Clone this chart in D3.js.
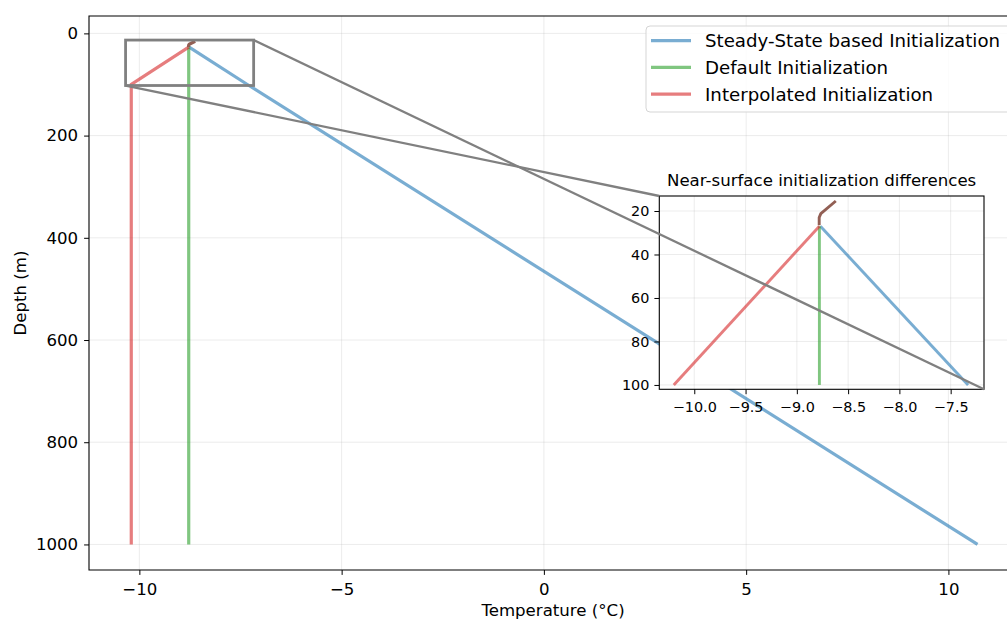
<!DOCTYPE html>
<html>
<head>
<meta charset="utf-8">
<script src="https://cdn.jsdelivr.net/npm/d3@7"></script>
<style>
  html, body { margin: 0; padding: 0; background: #fff; }
  svg { display: block; font-family: "DejaVu Sans", sans-serif; }
</style>
</head>
<body>
<svg id="chart" width="1007" height="620"></svg>
<script>
// Temperature profiles (°C) against depth (m)
const steadyDepth = [27, 100, 1000];
const steadyTemp  = [-8.77, -7.33, 10.72];

const defaultDepth = [27, 100, 1000];
const defaultTemp  = [-8.78, -8.78, -8.78];

const interpDepth = [27, 100, 1000];
const interpTemp  = [-8.78, -10.2, -10.2];

// observed near-surface segment
const surfaceDepth = [15.4, 21.2, 23.0, 26.6];
const surfaceTemp  = [-8.62, -8.766, -8.782, -8.782];

const seriesNames = ["Steady-State based Initialization", "Default Initialization", "Interpolated Initialization"];
const seriesColors = ["#1f77b4", "#2ca02c", "#d62728"];

const xTicks = [-10, -5, 0, 5, 10];
const yTicks = [0, 200, 400, 600, 800, 1000];
const insetXTicks = [-10.0, -9.5, -9.0, -8.5, -8.0, -7.5];
const insetYTicks = [20, 40, 60, 80, 100];
const insetXDomain = [-10.341, -7.175];
const insetYDomain = [13.1, 102.0];
const insetMaxDepth = 100;

const svg = d3.select("#chart");
const minus = s => s.replace("-", "\u2212");

// ---- main axes ----
const M = { left: 89, top: 16, bottom: 570, right: 1019 };
const x = d3.scaleLinear().domain([-11.245, 11.745]).range([M.left, M.right]);
const y = d3.scaleLinear().domain([-34, 1050]).range([M.top, M.bottom]);

const main = svg.append("g");
// grid
main.append("g").selectAll("line").data(xTicks).join("line")
  .attr("x1", d => x(d)).attr("x2", d => x(d)).attr("y1", M.top).attr("y2", M.bottom)
  .attr("stroke", "#b0b0b0").attr("stroke-opacity", 0.3).attr("stroke-width", 0.8);
main.append("g").selectAll("line").data(yTicks).join("line")
  .attr("y1", d => y(d)).attr("y2", d => y(d)).attr("x1", M.left).attr("x2", M.right)
  .attr("stroke", "#b0b0b0").attr("stroke-opacity", 0.3).attr("stroke-width", 0.8);

const lineMain = d3.line().x(d => x(d[0])).y(d => y(d[1]));
const zip = (t, dd) => t.map((v, i) => [v, dd[i]]);
const profiles = [zip(steadyTemp, steadyDepth), zip(defaultTemp, defaultDepth), zip(interpTemp, interpDepth)];

profiles.forEach((p, i) => {
  main.append("path").attr("d", lineMain(p)).attr("fill", "none")
    .attr("stroke", seriesColors[i]).attr("stroke-opacity", 0.6).attr("stroke-width", 3.2);
});
main.append("path").attr("d", lineMain(zip(surfaceTemp, surfaceDepth))).attr("fill", "none")
  .attr("stroke", "#8c564b").attr("stroke-opacity", 0.95).attr("stroke-width", 3.2)
  .attr("stroke-linejoin", "round");

// spines
main.append("path")
  .attr("d", `M${M.right},${M.top}H${M.left}V${M.bottom}H${M.right}`)
  .attr("fill", "none").attr("stroke", "#000").attr("stroke-width", 1.1);

// axes
const xAxis = d3.axisBottom(x).tickValues(xTicks).tickSize(4.9).tickPadding(8).tickFormat(d => minus(String(d)));
const yAxis = d3.axisLeft(y).tickValues(yTicks).tickSize(4.9).tickPadding(6).tickFormat(d => String(d));
const gx = main.append("g").attr("transform", `translate(0,${M.bottom})`).call(xAxis);
const gy = main.append("g").attr("transform", `translate(${M.left},0)`).call(yAxis);
[gx, gy].forEach(g => {
  g.select(".domain").remove();
  g.selectAll("line").attr("stroke", "#000").attr("stroke-width", 1);
  g.selectAll("text").attr("font-size", 16.6).attr("fill", "#000").attr("font-family", "DejaVu Sans");
});

svg.append("text").attr("x", 553).attr("y", 616)
  .attr("text-anchor", "middle").attr("font-size", 16.6).text("Temperature (°C)");
svg.append("text").attr("transform", `translate(26,${(M.top + M.bottom) / 2}) rotate(-90)`)
  .attr("text-anchor", "middle").attr("font-size", 16.6).text("Depth (m)");

// zoom rectangle
const rx0 = x(insetXDomain[0]), rx1 = x(insetXDomain[1]);
const ry0 = y(insetYDomain[0]), ry1 = y(insetYDomain[1]);
main.append("rect").attr("x", rx0).attr("y", ry0).attr("width", rx1 - rx0).attr("height", ry1 - ry0)
  .attr("fill", "none").attr("stroke", "#808080").attr("stroke-width", 2.8);

// ---- legend ----
const leg = svg.append("g");
leg.append("rect").attr("x", 646).attr("y", 26).attr("width", 400).attr("height", 86).attr("rx", 4)
  .attr("fill", "#fff").attr("fill-opacity", 0.8).attr("stroke", "#d5d5d5").attr("stroke-width", 1);
seriesNames.forEach((name, i) => {
  const ly = 40.7 + i * 26.7;
  leg.append("line").attr("x1", 651).attr("x2", 691).attr("y1", ly).attr("y2", ly)
    .attr("stroke", seriesColors[i]).attr("stroke-opacity", 0.6).attr("stroke-width", 3.2);
  leg.append("text").attr("x", 705).attr("y", ly).attr("dy", "0.36em")
    .attr("font-size", 18.2).text(name);
});

// ---- inset ----
const I = { left: 659.3, right: 984, top: 196, bottom: 389.3 };
const ix = d3.scaleLinear().domain(insetXDomain).range([I.left, I.right]);
const iy = d3.scaleLinear().domain(insetYDomain).range([I.top, I.bottom]);
const inset = svg.append("g");
inset.append("rect").attr("x", I.left).attr("y", I.top).attr("width", I.right - I.left).attr("height", I.bottom - I.top)
  .attr("fill", "#fff");
inset.append("g").selectAll("line").data(insetXTicks).join("line")
  .attr("x1", d => ix(d)).attr("x2", d => ix(d)).attr("y1", I.top).attr("y2", I.bottom)
  .attr("stroke", "#b0b0b0").attr("stroke-opacity", 0.3).attr("stroke-width", 0.8);
inset.append("g").selectAll("line").data(insetYTicks).join("line")
  .attr("y1", d => iy(d)).attr("y2", d => iy(d)).attr("x1", I.left).attr("x2", I.right)
  .attr("stroke", "#b0b0b0").attr("stroke-opacity", 0.3).attr("stroke-width", 0.8);

const lineInset = d3.line().x(d => ix(d[0])).y(d => iy(d[1]));
const plotArea = inset.append("g");
profiles.forEach((p, i) => {
  const shallow = p.filter(d => d[1] <= insetMaxDepth);
  plotArea.append("path").attr("d", lineInset(shallow)).attr("fill", "none")
    .attr("stroke", seriesColors[i]).attr("stroke-opacity", 0.6).attr("stroke-width", 2.9);
});
plotArea.append("path").attr("d", lineInset(zip(surfaceTemp, surfaceDepth))).attr("fill", "none")
  .attr("stroke", "#8c564b").attr("stroke-opacity", 0.95).attr("stroke-width", 2.9)
  .attr("stroke-linejoin", "round");

inset.append("rect").attr("x", I.left).attr("y", I.top).attr("width", I.right - I.left).attr("height", I.bottom - I.top)
  .attr("fill", "none").attr("stroke", "#000").attr("stroke-width", 1.1);

const ixAxis = d3.axisBottom(ix).tickValues(insetXTicks).tickSize(4.9).tickPadding(8).tickFormat(d => minus(d.toFixed(1)));
const iyAxis = d3.axisLeft(iy).tickValues(insetYTicks).tickSize(4.9).tickPadding(5).tickFormat(d => String(d));
const gix = inset.append("g").attr("transform", `translate(0,${I.bottom})`).call(ixAxis);
const giy = inset.append("g").attr("transform", `translate(${I.left},0)`).call(iyAxis);
[gix, giy].forEach(g => {
  g.select(".domain").remove();
  g.selectAll("line").attr("stroke", "#000").attr("stroke-width", 1);
  g.selectAll("text").attr("font-size", 14.4).attr("fill", "#000").attr("font-family", "DejaVu Sans");
});
inset.append("text").attr("x", (I.left + I.right) / 2).attr("y", 186)
  .attr("text-anchor", "middle").attr("font-size", 16.6).text("Near-surface initialization differences");

// connector lines from the zoom rectangle to the inset
svg.append("line").attr("x1", rx1).attr("y1", ry0).attr("x2", I.right).attr("y2", I.bottom)
  .attr("stroke", "#808080").attr("stroke-width", 2.3);
svg.append("line").attr("x1", rx0).attr("y1", ry1).attr("x2", I.left).attr("y2", I.top)
  .attr("stroke", "#808080").attr("stroke-width", 2.3);
</script>
</body>
</html>
